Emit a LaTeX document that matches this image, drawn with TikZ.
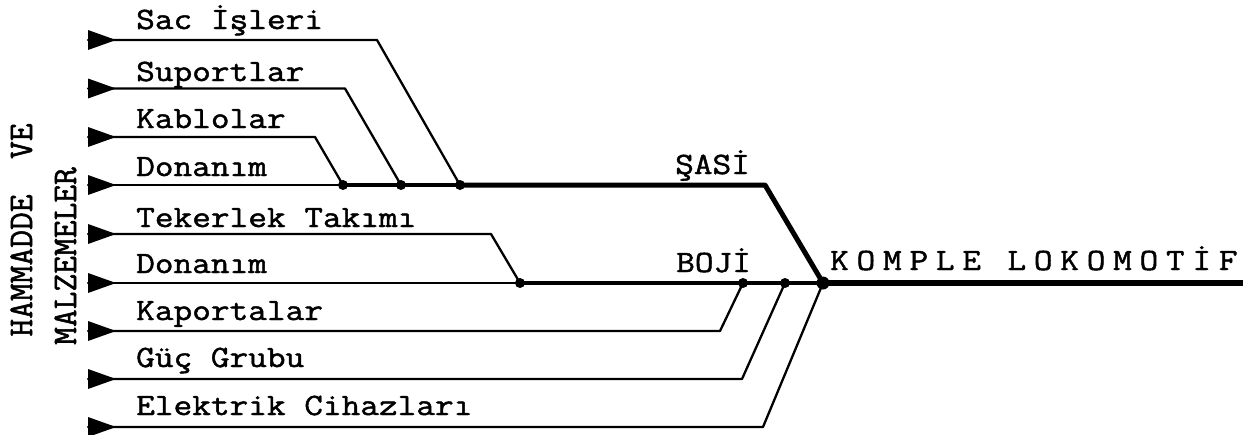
\documentclass[tikz,border=0pt]{standalone}
\usepackage{fontspec}
\newfontfamily\twfont[FakeStretch=1.17,FakeBold=1.5]{Latin Modern Mono}
\newfontfamily\twspaced[FakeStretch=1.17,FakeBold=1.5,LetterSpace=25]{Latin Modern Mono}
\newfontfamily\twside[FakeStretch=1.0,FakeBold=1.5]{Latin Modern Mono}
\begin{document}
\begin{tikzpicture}[x=1pt,y=-1pt,
  feedline/.style={line width=2.3pt, line join=round, line cap=round},
  midline/.style={line width=3.6pt, line join=round},
  mainline/.style={line width=5pt, line join=round},
  lbl/.style={font=\twfont\fontsize{31}{36}\selectfont, anchor=base west, inner sep=0pt},
  biglbl/.style={font=\twspaced\fontsize{31}{36}\selectfont, anchor=base west, inner sep=0pt},
  sidelbl/.style={font=\twside\fontsize{34.5}{40}\selectfont, anchor=base, inner sep=0pt, rotate=90},
  feedtip/.style={fill=black},
  juncdot/.style={fill=black}]
\useasboundingbox (0,0) rectangle (1243,434);
% start points
\foreach \n/\y in {a/40,b/88.5,c/137,d/185,e/234,f/283,g/331,h/379,i/427}
  \coordinate (s\n) at (88,\y);
% bends
\coordinate (ka) at (377,40);
\coordinate (kb) at (345,88.5);
\coordinate (kc) at (315,137);
\coordinate (ke) at (491,234);
\coordinate (kg) at (720,331);
\coordinate (kh) at (742,379);
\coordinate (ki) at (763,427);
\coordinate (sbend) at (765,185);
% junctions
\coordinate (j1) at (343,185);
\coordinate (j2) at (401,185);
\coordinate (j3) at (460,185);
\coordinate (b1) at (520,283);
\coordinate (b2) at (743,283);
\coordinate (b3) at (785,283);
\coordinate (kk) at (823,283);
\coordinate (fin) at (1243,283);
% arrow tips
\foreach \n in {a,b,c,d,e,f,g,h,i}
  \fill[feedtip,shift={(s\n)}] (0,-10) -- (28,0) -- (0,10) -- cycle;
% chassis group
\draw[feedline] (sa) -- (ka) -- (j3);
\draw[feedline] (sb) -- (kb) -- (j2);
\draw[feedline] (sc) -- (kc) -- (j1);
\draw[feedline] (sd) -- (j1);
\draw[midline] (j1) -- (j3);
\draw[mainline] (j3) -- (sbend) -- (kk);
% bogie group
\draw[feedline] (se) -- (ke) -- (b1);
\draw[feedline] (sf) -- (b1);
\draw[midline] (b1) -- (kk);
\draw[feedline] (sg) -- (kg) -- (b2);
\draw[feedline] (sh) -- (kh) -- (b3);
\draw[feedline] (si) -- (ki) -- (kk);
\draw[line width=6pt] (kk) -- (fin);
% dots
\foreach \p in {j1,j2,j3,b1,b2,b3} \fill[juncdot] (\p) circle (5);
\fill[juncdot] (kk) circle (6.5);
% labels
\node[lbl] (la) at (136,29) {Sac İşleri};
\node[lbl] (lb) at (136,81) {Suportlar};
\node[lbl] (lc) at (136,128) {Kablolar};
\node[lbl] (ld) at (136,176) {Donanım};
\node[lbl] (le) at (136,227) {Tekerlek Takımı};
\node[lbl] (lf) at (136,273) {Donanım};
\node[lbl] (lg) at (136,320) {Kaportalar};
\node[lbl] (lh) at (136,367) {Güç Grubu};
\node[lbl] (li) at (136,415) {Elektrik Cihazları};
\node[lbl] (lsasi) at (675,174) {ŞASİ};
\node[lbl] (lboji) at (676,272) {BOJİ};
\node[biglbl] (lkomple) at (830,270) {KOMPLE LOKOMOTİF};
\node[sidelbl] (lham) at (32,230) {HAMMADDE\ \ VE};
\node[sidelbl] (lmal) at (76,256) {MALZEMELER};
\end{tikzpicture}
\end{document}
